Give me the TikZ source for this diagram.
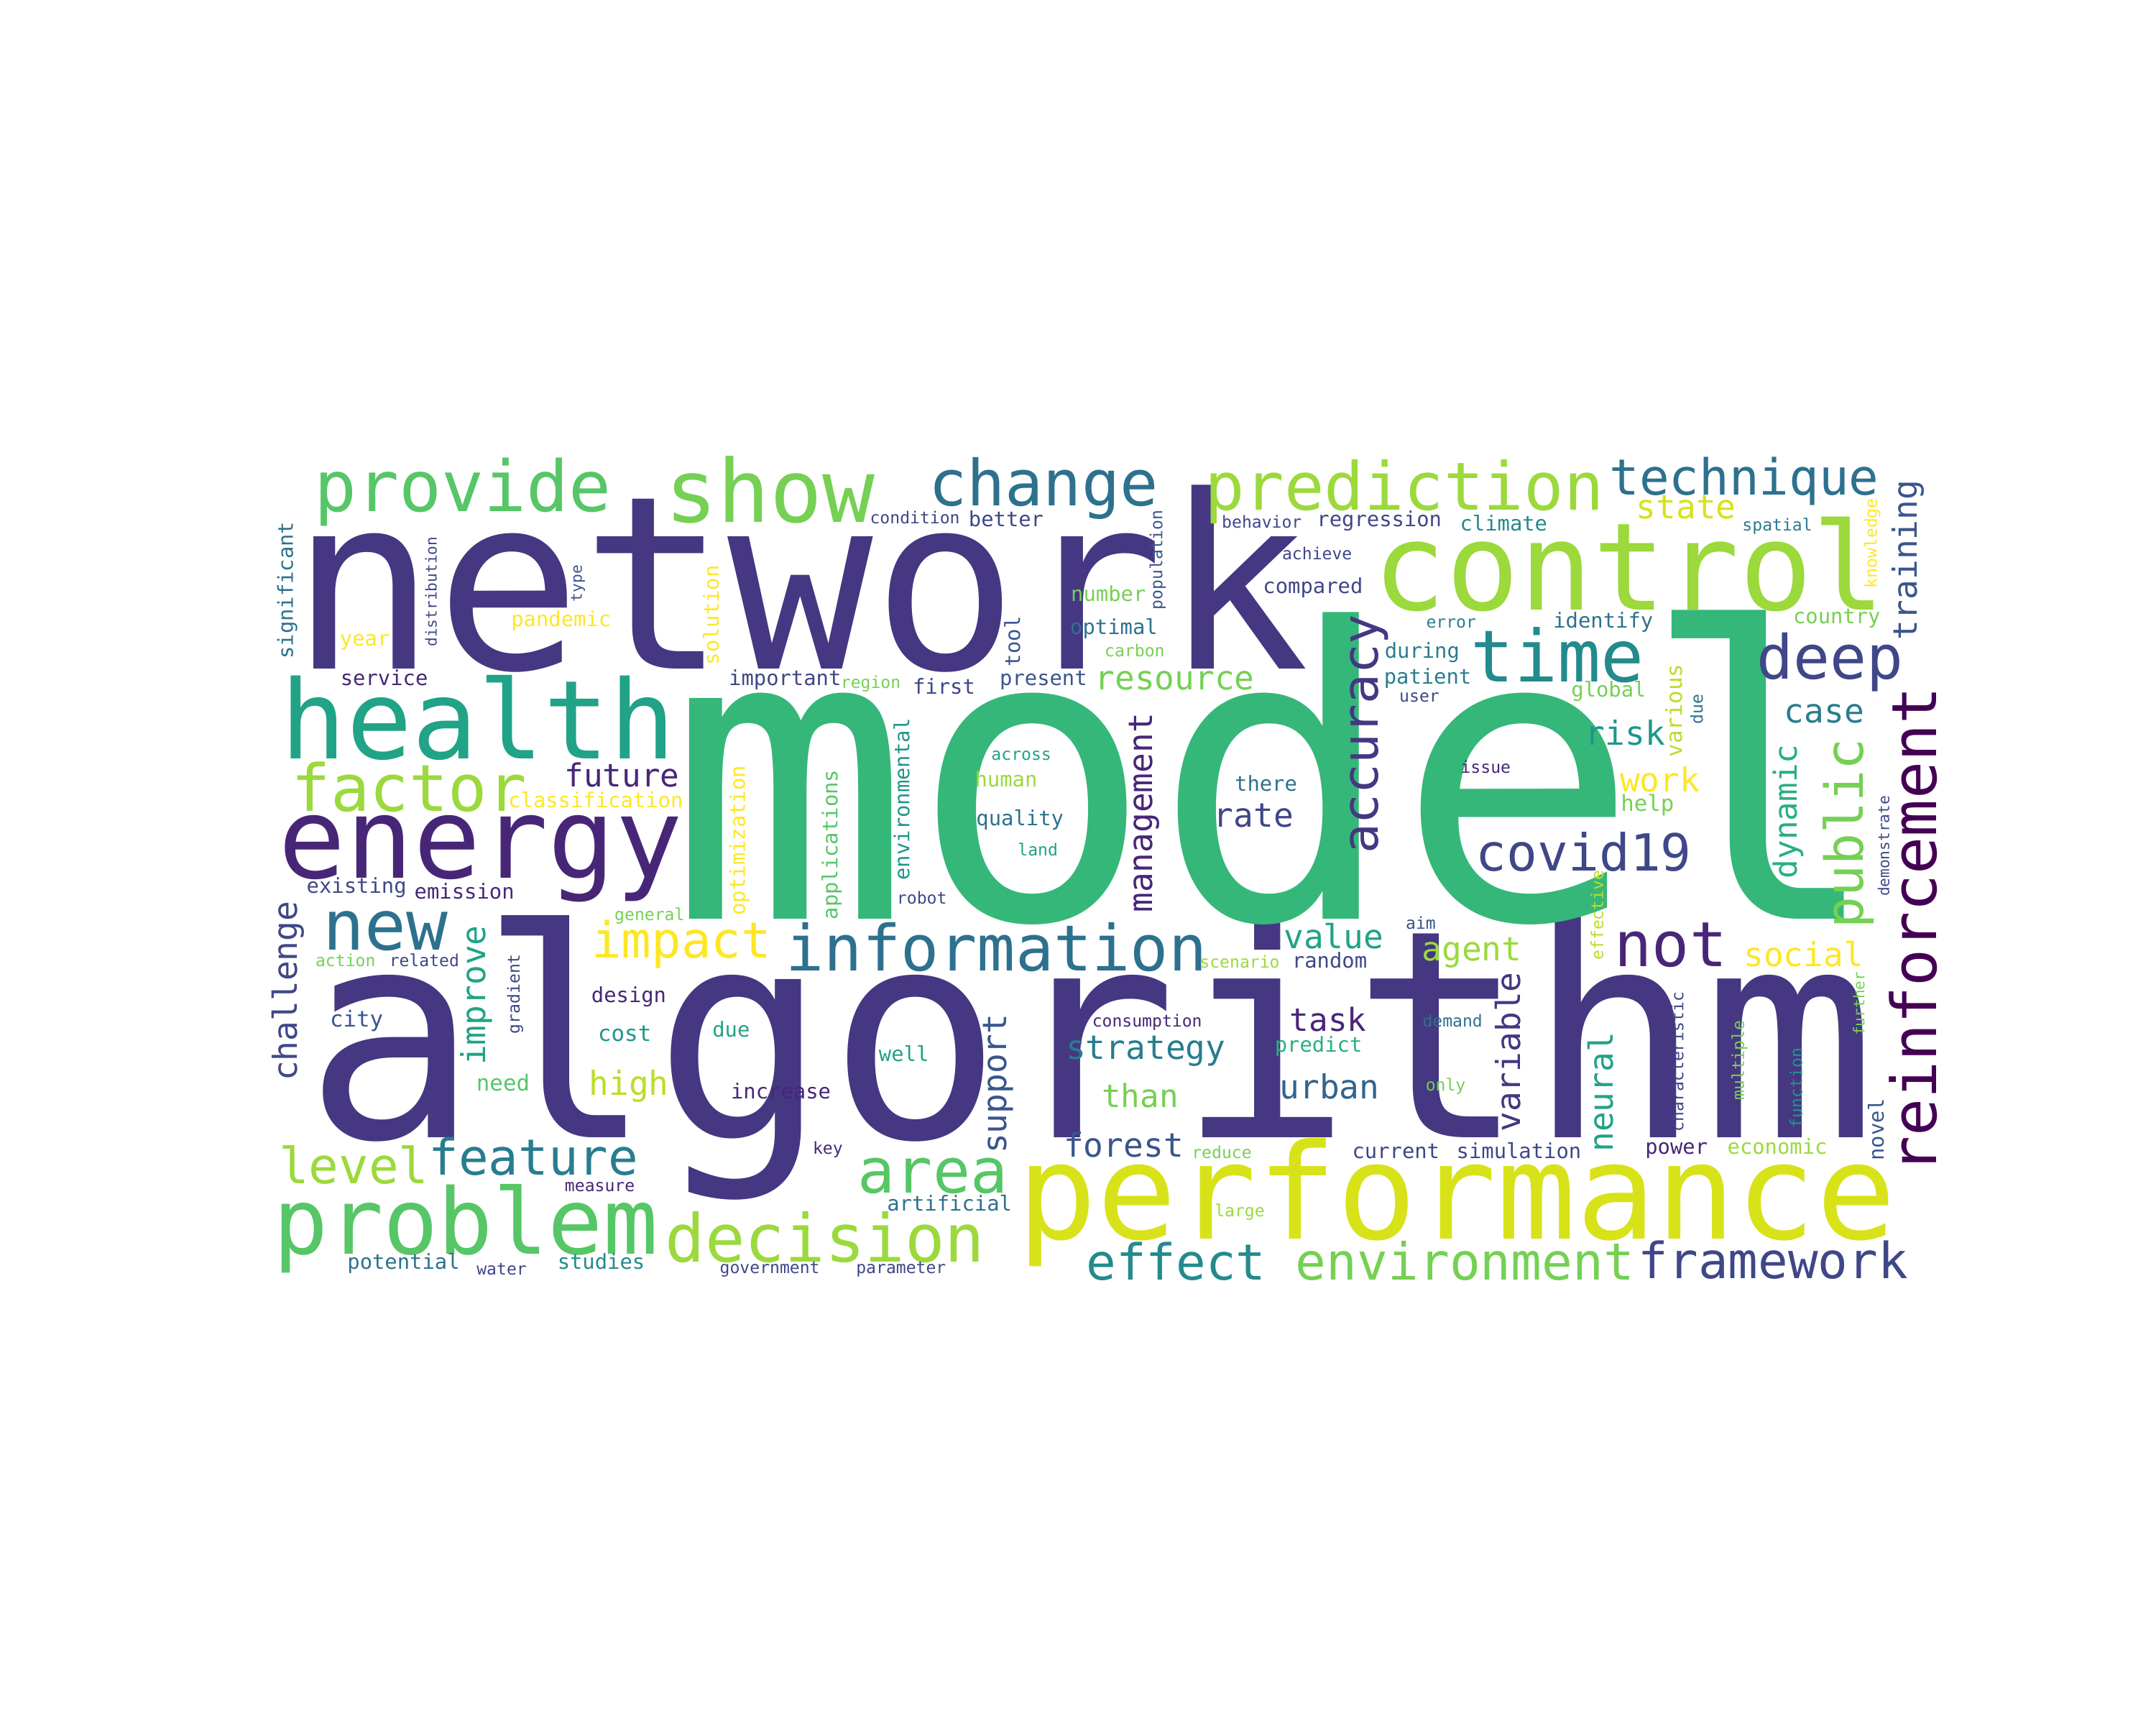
\documentclass[tikz,border=0pt]{standalone}
\usepackage{fontspec}
\usepackage{tikz}
\newfontfamily\cloudfont{DejaVu Sans Mono}
\definecolor{vir1}{HTML}{440154}
\definecolor{vir3}{HTML}{482677}
\definecolor{vir4}{HTML}{453781}
\definecolor{vir5}{HTML}{3F4788}
\definecolor{vir6}{HTML}{39558C}
\definecolor{vir7}{HTML}{32648E}
\definecolor{vir8}{HTML}{2D718E}
\definecolor{vir9}{HTML}{287D8E}
\definecolor{vir10}{HTML}{238A8D}
\definecolor{vir11}{HTML}{1F968B}
\definecolor{vir12}{HTML}{20A386}
\definecolor{vir13}{HTML}{29AF7F}
\definecolor{vir14}{HTML}{35B779}
\definecolor{vir15}{HTML}{56C667}
\definecolor{vir16}{HTML}{75D054}
\definecolor{vir17}{HTML}{9BD93C}
\definecolor{vir18}{HTML}{BADE28}
\definecolor{vir19}{HTML}{D8E219}
\definecolor{vir20}{HTML}{FDE725}
\tikzset{word/.style={inner sep=0pt, outer sep=0pt, anchor=base}}

\begin{document}
\begin{tikzpicture}[x=1pt,y=-1pt]
	\fill[white] (0,0) rectangle (1560,1248);
	% horizontal words: x/baseline/size/colour/text
	\foreach \x/\y/\sz/\col/\w in {579/484/175/vir4/network, 789/823/210/vir4/algorithm, 923/665/292/vir14/model,
		1179/441/88/vir17/control, 1054/896/96/vir19/performance, 346/549/79/vir12/health, 348/635/81/vir3/energy,
		557/378/63/vir16/show, 335/370/51/vir15/provide, 755/366/46/vir8/change, 1016/369/48/vir17/prediction,
		1262/358/36/vir8/technique, 1127/493/52/vir10/time, 1324/491/44/vir5/deep, 296/587/47/vir17/factor,
		279/687/50/vir8/new, 493/693/36/vir20/impact, 721/702/46/vir8/information, 1209/699/45/vir3/not,
		337/907/66/vir15/problem, 597/913/48/vir17/decision, 675/863/45/vir15/area, 386/850/36/vir9/feature,
		256/856/36/vir17/level, 851/926/36/vir10/effect, 1060/926/37/vir16/environment, 1283/925/36/vir5/framework,
		1146/630/37/vir5/covid19, 850/499/24/vir16/resource, 1220/375/24/vir19/state, 1320/523/24/vir9/case,
		1176/539/24/vir11/risk, 1201/573/24/vir20/work, 965/686/24/vir12/value, 1065/695/24/vir17/agent,
		1305/699/24/vir20/social, 961/746/23/vir3/task, 829/766/24/vir9/strategy, 962/795/24/vir7/urban,
		825/801/23/vir16/than, 813/837/24/vir6/forest, 455/792/24/vir18/high, 450/569/23/vir3/future,
		907/598/24/vir5/rate}
		\node[word, text=\col, font=\cloudfont\fontsize{\sz}{\sz}\selectfont] (\w) at (\x,\y) {\w};
	\foreach \x/\y/\sz/\col/\w in {431/584/15/vir20/classification, 278/496/15/vir3/service, 568/496/15/vir5/important,
		630/498/12/vir16/region, 683/502/15/vir5/first, 755/496/15/vir6/present, 806/459/15/vir8/optimal,
		802/435/15/vir16/number, 821/475/12/vir16/carbon, 662/379/12/vir5/condition, 728/381/15/vir5/better,
		913/382/12/vir5/behavior, 998/381/15/vir5/regression, 953/405/12/vir5/achieve, 950/429/15/vir5/compared,
		1088/384/15/vir10/climate, 1286/384/12/vir9/spatial, 1050/454/12/vir9/error, 1160/454/15/vir8/identify,
		1329/451/15/vir16/country, 1029/476/15/vir9/during, 1033/495/15/vir9/patient, 1027/508/12/vir5/user,
		1164/504/15/vir16/global, 1075/559/12/vir3/issue, 1192/587/16/vir16/help, 406/453/15/vir20/pandemic,
		264/467/15/vir20/year, 258/646/15/vir5/existing, 336/650/15/vir3/emission, 250/699/12/vir16/action,
		307/699/12/vir5/related, 258/743/16/vir6/city, 364/789/16/vir15/need, 470/666/12/vir16/general,
		455/725/15/vir3/design, 452/753/16/vir11/cost, 434/862/12/vir3/measure, 292/918/15/vir8/potential,
		363/922/12/vir5/water, 435/918/15/vir10/studies, 667/654/12/vir5/robot, 529/750/15/vir12/due,
		654/768/15/vir12/well, 565/795/15/vir3/increase, 599/835/12/vir3/key, 687/876/15/vir8/artificial,
		557/921/12/vir5/government, 652/921/12/vir5/parameter, 830/743/12/vir3/consumption, 884/838/12/vir16/reduce,
		897/880/12/vir17/large, 897/700/12/vir17/scenario, 962/700/15/vir5/random, 1028/672/12/vir6/aim,
		954/761/15/vir13/predict, 1051/743/12/vir8/demand, 1046/789/12/vir16/only, 1010/838/15/vir5/current,
		1099/838/15/vir5/simulation, 1213/835/15/vir3/power, 1286/835/15/vir17/economic, 739/550/12/vir12/across,
		728/569/15/vir17/human, 738/597/15/vir8/quality, 751/619/12/vir12/land, 916/572/15/vir8/there}
		\node[word, text=\col, font=\cloudfont\fontsize{\sz}{\sz}\selectfont] (\w) at (\x,\y) {\w};
	% vertical words: baseline/middle/size/colour/text
	\foreach \x/\y/\sz/\col/\w in {1387/405/24/vir6/training, 997/531/36/vir4/accuracy, 1401/673/45/vir1/reinforcement,
		1348/603/38/vir16/public, 1300/587/23/vir13/dynamic, 834/588/24/vir3/management, 215/717/24/vir5/challenge,
		351/720/24/vir12/improve, 1100/761/24/vir4/variable, 1167/790/24/vir12/neural, 728/784/24/vir6/support,
		212/427/15/vir8/significant, 316/428/11/vir5/distribution, 421/422/11/vir6/type, 520/445/15/vir20/solution,
		738/464/15/vir6/tool, 841/405/12/vir6/population, 1217/514/16/vir18/various, 1232/513/12/vir8/due,
		1367/612/11/vir5/demonstrate, 658/578/15/vir11/environmental, 606/611/15/vir15/applications,
		539/608/15/vir20/optimization, 376/719/12/vir5/gradient, 1160/662/12/vir18/effective, 1349/726/11/vir16/further,
		1218/768/12/vir5/characteristic, 1262/767/12/vir16/multiple, 1304/787/12/vir11/function, 1363/817/15/vir6/novel,
		1358/393/12/vir20/knowledge}
		\node[word, rotate=90, text=\col, font=\cloudfont\fontsize{\sz}{\sz}\selectfont] (v\w) at (\x,\y) {\w};
\end{tikzpicture}
\end{document}
